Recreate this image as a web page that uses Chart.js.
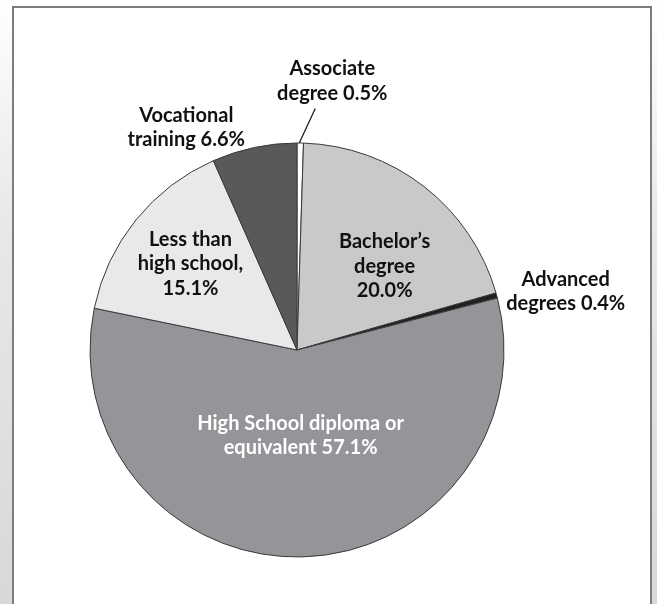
<!DOCTYPE html>
<html>
<head>
<meta charset="utf-8">
<script src="https://cdn.jsdelivr.net/npm/chart.js@4.4.1/dist/chart.umd.min.js"></script>
<style>
  html, body { margin: 0; padding: 0; }
  body {
    width: 657px; height: 604px; overflow: hidden; position: relative;
    background: linear-gradient(to bottom, #ffffff 0%, #e9e9e9 35%, #d8d8d8 100%);
  }
  #frame {
    position: absolute; left: 12px; top: 6px; width: 640px; height: 640px;
    background: #ffffff; border: 2px solid #7d7d7d; box-sizing: border-box;
  }
  #chart { position: absolute; left: 0; top: 0; }
</style>
</head>
<body>
<div id="frame"></div>
<canvas id="chart" width="657" height="604"></canvas>
<script>
// Educational attainment shares, clockwise from 12 o'clock
const categories = [
  'Associate degree',
  "Bachelor\u2019s degree",
  'Advanced degrees',
  'High School diploma or equivalent',
  'Less than high school',
  'Vocational training'
];
const shares = [0.5, 20.0, 0.4, 57.1, 15.1, 6.6];

// Text printed for each slice, one entry per line
const labelLines = [
  ['Associate', 'degree 0.5%'],
  ['Bachelor\u2019s', 'degree', '20.0%'],
  ['Advanced', 'degrees 0.4%'],
  ['High School diploma or', 'equivalent 57.1%'],
  ['Less than', 'high school,', '15.1%'],
  ['Vocational', 'training 6.6%']
];

const sliceColors = ['#ffffff', '#c8c9cb', '#231f20', '#939598', '#e9e9eb', '#58595b'];
const labelColors = ['#111111', '#111111', '#111111', '#ffffff', '#111111', '#111111'];

// Label placement: 'in' anchors at the slice centroid, 'out' at the rim; then nudged
const labelPlace = [
  { mode: 'out', dx: 32, dy: -62, leader: true },
  { mode: 'in', dx: 24, dy: -2 },
  { mode: 'out', dx: 69, dy: -4 },
  { mode: 'in', dx: 1, dy: -18 },
  { mode: 'in', dx: -26, dy: -21 },
  { mode: 'out', dx: -68, dy: -20 }
];

const FONT = 'bold 20px Lato, "Open Sans", sans-serif';
const LINE_H = 24.5;

const sliceLabels = {
  id: 'sliceLabels',
  afterDatasetsDraw(chart) {
    const ctx = chart.ctx;
    const arcs = chart.getDatasetMeta(0).data;
    ctx.save();
    ctx.font = FONT;
    ctx.textAlign = 'center';
    ctx.textBaseline = 'middle';
    arcs.forEach((arc, i) => {
      const p = arc.getProps(['x', 'y', 'startAngle', 'endAngle', 'outerRadius'], true);
      const mid = (p.startAngle + p.endAngle) / 2;
      const place = labelPlace[i];
      let ax, ay;
      if (place.mode === 'in') {
        const c = arc.tooltipPosition(true);
        ax = c.x; ay = c.y;
      } else {
        ax = p.x + Math.cos(mid) * p.outerRadius;
        ay = p.y + Math.sin(mid) * p.outerRadius;
      }
      const cx = ax + place.dx, cy = ay + place.dy;
      const lines = labelLines[i];
      if (place.leader) {
        ctx.strokeStyle = '#111111';
        ctx.lineWidth = 1.2;
        ctx.beginPath();
        ctx.moveTo(ax - 1, ay);
        ctx.lineTo(cx - 17, cy + lines.length * LINE_H / 2 + 3);
        ctx.stroke();
      }
      ctx.fillStyle = labelColors[i];
      lines.forEach((t, k) => {
        ctx.fillText(t, cx, cy + (k - (lines.length - 1) / 2) * LINE_H);
      });
    });
    ctx.restore();
  }
};

new Chart(document.getElementById('chart'), {
  type: 'pie',
  data: {
    labels: categories,
    datasets: [{
      data: shares,
      backgroundColor: sliceColors,
      borderColor: '#3a3a3a',
      borderWidth: 1,
      borderJoinStyle: 'miter'
    }]
  },
  options: {
    responsive: false,
    animation: false,
    rotation: 0,
    layout: { padding: { left: 89.5, right: 152.5, top: 142.5, bottom: 46.5 } },
    plugins: {
      legend: { display: false },
      tooltip: { enabled: false }
    }
  },
  plugins: [sliceLabels]
});
</script>
</body>
</html>
